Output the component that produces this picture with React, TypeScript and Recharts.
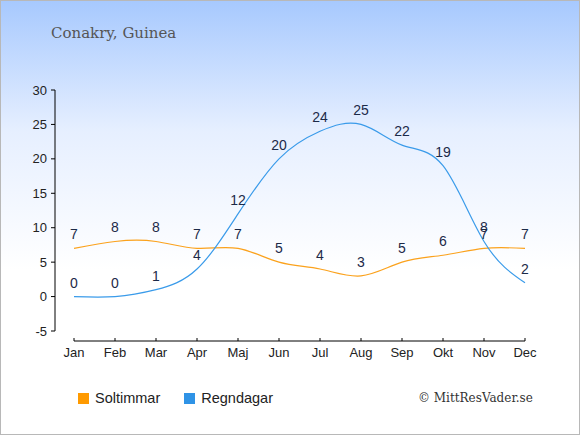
import React from 'react';
import { Line, LineChart, XAxis, YAxis, LabelList } from 'recharts';

const months = ['Jan', 'Feb', 'Mar', 'Apr', 'Maj', 'Jun', 'Jul', 'Aug', 'Sep', 'Okt', 'Nov', 'Dec'];
const soltimmar = [7, 8, 8, 7, 7, 5, 4, 3, 5, 6, 7, 7];
const regndagar = [0, 0, 1, 4, 12, 20, 24, 25, 22, 19, 8, 2];
const yTicks = [-5, 0, 5, 10, 15, 20, 25, 30];

const ORANGE = '#fba21d';
const BLUE = '#3a9bea';
const SANS = '"Liberation Sans", Arial, sans-serif';
const SERIF = '"DejaVu Serif", Georgia, serif';

const data = months.map((m, i) => ({
  month: m,
  Soltimmar: soltimmar[i],
  Regndagar: regndagar[i],
}));

const legendItems = [
  { name: 'Soltimmar', color: '#ff9a00' },
  { name: 'Regndagar', color: '#2f93e6' },
];

const ChartLegend = () => (
  <div
    style={{
      position: 'absolute',
      left: 77,
      top: 389,
      display: 'flex',
      alignItems: 'center',
      fontFamily: SANS,
      fontSize: 14.5,
      color: '#222',
    }}
  >
    {legendItems.map((it) => (
      <div key={it.name} style={{ display: 'flex', alignItems: 'center', marginRight: 24 }}>
        <span style={{ width: 11, height: 11, background: it.color, display: 'inline-block', marginRight: 6 }} />
        <span>{it.name}</span>
      </div>
    ))}
  </div>
);

export default function App() {
  return (
    <div
      style={{
        position: 'absolute',
        left: 0,
        top: 0,
        width: 580,
        height: 435,
        boxSizing: 'border-box',
        border: '1px solid #b8b8b8',
        background: 'linear-gradient(#a7c9fe 0%, #e6efff 30%, #ffffff 62%, #ffffff 100%)',
        overflow: 'hidden',
      }}
    >
      <div style={{ position: 'absolute', left: 50, top: 23, fontFamily: SERIF, fontSize: 15, color: '#555' }}>
        Conakry, Guinea
      </div>
      <div style={{ position: 'absolute', left: 417, top: 390, fontFamily: SERIF, fontSize: 12, color: '#333' }}>
        © MittResVader.se
      </div>
      <ChartLegend />
      <div style={{ position: 'absolute', left: -1, top: -1 }}>
        <LineChart width={580} height={435} data={data} margin={{ top: 90, right: 55, bottom: 64, left: 0 }}>
          <XAxis
            dataKey="month"
            padding={{ left: 19, right: 0 }}
            height={30}
            interval={0}
            tickSize={-3}
            tickMargin={10}
            axisLine={{ stroke: '#000', strokeDasharray: '0 19 1000' }}
            tickLine={{ stroke: '#000' }}
            tick={{ fill: '#222', fontSize: 13, fontFamily: SANS }}
          />
          <YAxis
            width={55}
            domain={[-5, 30]}
            ticks={yTicks}
            interval={0}
            padding={{ top: 0, bottom: 10 }}
            tickSize={4}
            tickMargin={4}
            axisLine={{ stroke: '#000', strokeDasharray: '241 100' }}
            tickLine={{ stroke: '#000' }}
            tick={{ fill: '#222', fontSize: 13, fontFamily: SANS }}
          />
          <Line type="natural" dataKey="Soltimmar" stroke={ORANGE} strokeWidth={1.2} dot={false} isAnimationActive={false}>
            <LabelList dataKey="Soltimmar" position="top" offset={9} fill="#1c2a48" fontSize={14} fontFamily={SANS} />
          </Line>
          <Line type="natural" dataKey="Regndagar" stroke={BLUE} strokeWidth={1.2} dot={false} isAnimationActive={false}>
            <LabelList dataKey="Regndagar" position="top" offset={9} fill="#1c2a48" fontSize={14} fontFamily={SANS} />
          </Line>
        </LineChart>
      </div>
    </div>
  );
}
